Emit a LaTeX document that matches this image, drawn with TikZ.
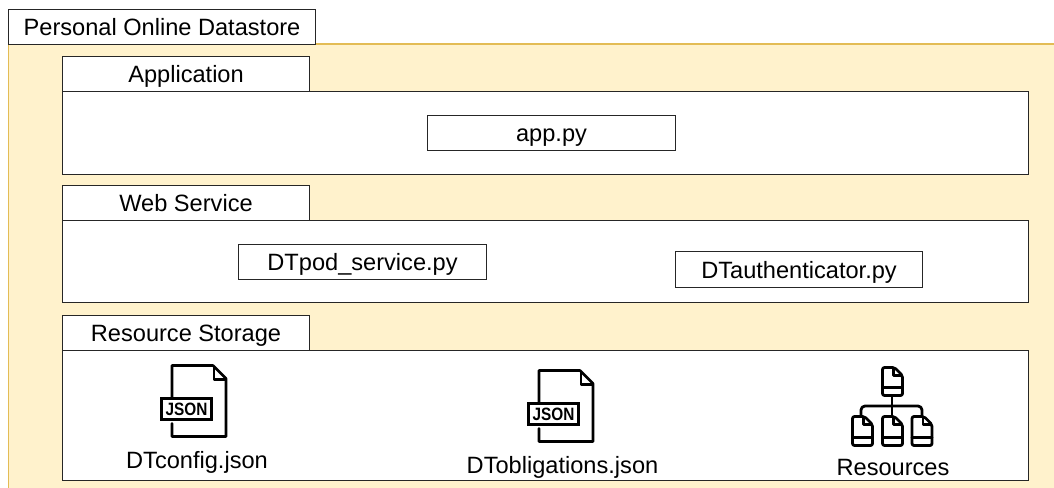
\documentclass[tikz,border=0pt]{standalone}
\usepackage{fontspec}
\setmainfont{Liberation Sans}
\definecolor{yfill}{HTML}{FFF2CC}
\definecolor{ystroke}{HTML}{E3BC55}
\tikzset{
  x=0.75pt,y=-0.75pt,
  panel/.style={draw=black!85,fill=white,line width=0.8pt,anchor=north west,inner sep=0pt,text=black,text height=13.2pt,text depth=0pt,font=\fontsize{17.7}{20}\selectfont},
  cap label/.style={inner sep=0pt,anchor=base,text=black,font=\fontsize{17.7}{20}\selectfont},
  glyph/.style={draw=black,line width=1.9pt,line join=round,line cap=round},
  glyph box/.style={draw=black,line width=2.25pt,line join=miter},
  glyph thin/.style={draw=black,line width=2.1pt,line join=round,line cap=round},
  pics/jsonfile/.style={code={
    % origin: outline's top-left; sizes in px
    \draw[glyph] (0,32) -- (0,0) -- (41,0) -- (54,13) -- (54,71) -- (0,71) -- (0,58);
    \draw[glyph] (42,2) -- (42,14) -- (53,14);
    \draw[glyph box] (-10.5,33) rectangle (39.5,54);
    \node[inner sep=0pt,text=black,xscale=0.86,font=\fontsize{13.4}{14}\bfseries\selectfont] at (14.5,44) {JSON};
  }},
  pics/smalldoc/.style={code={
    \draw[glyph thin,rounded corners=1.5pt] (0,0) -- (12,0) -- (20,8) -- (20,#1) -- (0,#1) -- cycle;
    \draw[glyph thin] (11,1) -- (11,8) -- (19,8);
    \draw[glyph thin] (0,#1-8) -- (20,#1-8);
  }}
}
\newcommand{\panelnode}[6]{\node[panel,minimum width={0.75*(#4-#2)*1pt},minimum height={0.75*(#5-#3)*1pt}] (#1) at (#2,#3) {#6};}
\begin{document}
\begin{tikzpicture}
\useasboundingbox (0,0) rectangle (1054,488);
\begin{scope}
\clip (0,0) rectangle (1054,488);
\fill[yfill] (8.5,44) rectangle (1060,500);
\draw[ystroke,line width=0.8pt] (8.5,500) -- (8.5,44) -- (1060,44);
\end{scope}
\panelnode{title}{8}{9}{315}{44}{Personal Online Datastore}
\panelnode{appbody}{62}{91}{1028}{174}{}
\panelnode{apptab}{62}{56}{309}{91}{Application}
\panelnode{appfile}{427}{115}{675}{150}{app.py}
\panelnode{webbody}{62}{220}{1028}{302}{}
\panelnode{webtab}{62}{185}{309}{220}{Web Service}
\panelnode{podfile}{238}{244}{486}{279}{DTpod\_service.py}
\panelnode{authfile}{675}{251}{922}{287}{DTauthenticator.py}
\panelnode{resbody}{62}{350}{1028}{480}{}
\panelnode{restab}{62}{315}{309}{350}{Resource Storage}
\pic at (172,365.5) {jsonfile};
\pic at (539,370.5) {jsonfile};
\node[cap label] (cfg) at (197,469) {DTconfig.json};
\node[cap label] (obl) at (562.5,474) {DTobligations.json};
\node[cap label] (rsc) at (893,475) {Resources};
\pic at (882.5,367.5) {smalldoc=28};
\pic at (852.5,416.5) {smalldoc=29};
\pic at (882.5,416.5) {smalldoc=29};
\pic at (912,416.5) {smalldoc=29};
\coordinate (stemtop) at (892,396);
\coordinate (stemend) at (892,416);
\coordinate (leftend) at (861,416);
\coordinate (rightend) at (922,416);
\coordinate (leftbar) at (861,406);
\coordinate (rightbar) at (922,406);
\draw[glyph thin] (stemtop) -- (stemend);
\draw[glyph thin,rounded corners=3pt] (leftend) -- (leftbar) -- (rightbar) -- (rightend);
\end{tikzpicture}
\end{document}
